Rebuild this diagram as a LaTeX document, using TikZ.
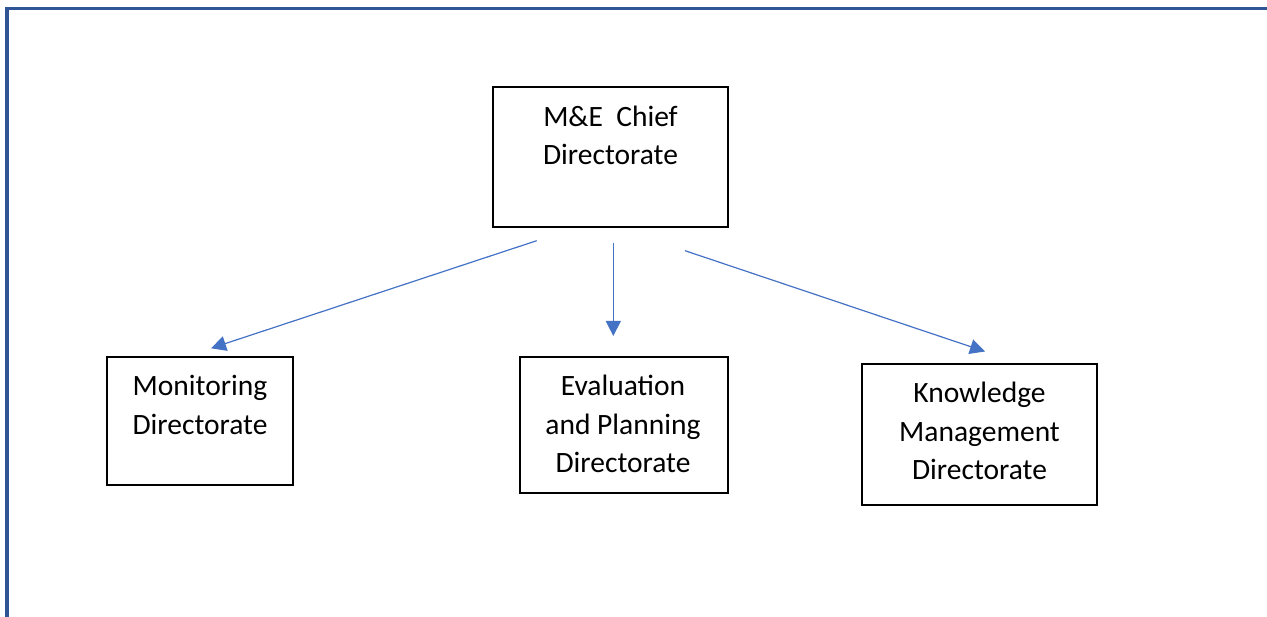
\documentclass[tikz,border=0pt]{standalone}
\usepackage{fontspec}
\setmainfont{Carlito}
\usetikzlibrary{arrows.meta,calc}
\definecolor{framecol}{HTML}{2F5597}
\definecolor{linkcol}{HTML}{4472C4}
\begin{document}
\begin{tikzpicture}[x=1pt,y=-1pt,
  unitbox/.style={draw=black, line width=1.3pt, fill=white, inner sep=0pt},
  boxtext/.style={anchor=north, inner sep=0pt, align=center,
    font=\fontsize{29.5}{38.5}\selectfont},
  link/.style={draw=linkcol, line width=1.2pt,
    -{Triangle[length=15pt,width=15pt]}},
  frameline/.style={draw=framecol, line width=3.2pt}]
\useasboundingbox (0,0) rectangle (1267,617);

% page frame (top and left edges)
\draw[frameline] (7,617) -- (7,8.5) -- (1267,8.5);

% units
\node[unitbox, minimum width=235pt, minimum height=140pt,
  label={[boxtext, yshift=-13pt]north:{\strut M\&E\ \ Chief\\Directorate}}]
  (chief) at (610.5,157) {};
\node[unitbox, minimum width=186pt, minimum height=128pt,
  label={[boxtext, yshift=-12.3pt]north:{\strut Monitoring\\Directorate}}]
  (mon) at (200,421) {};
\node[unitbox, minimum width=208pt, minimum height=136pt,
  label={[boxtext, xshift=-1pt, yshift=-12.3pt]north:{\strut Evaluation\\and Planning\\Directorate}}]
  (evalp) at (624,425) {};
\node[unitbox, minimum width=235pt, minimum height=141pt,
  label={[boxtext, yshift=-12pt]north:{\strut Knowledge\\Management\\Directorate}}]
  (know) at (979.5,434.5) {};

% connector ends, floating between the boxes
\coordinate (fromL) at (536.7,240.7);
\coordinate (fromM) at (613.3,242.7);
\coordinate (fromR) at (685,250.7);
\coordinate (toL) at (211,348.3);
\coordinate (toM) at (613.3,336);
\coordinate (toR) at (985,351.5);

\draw[link] (fromL) -- (toL);
\draw[link] (fromM) -- (toM);
\draw[link] (fromR) -- (toR);
\end{tikzpicture}
\end{document}
